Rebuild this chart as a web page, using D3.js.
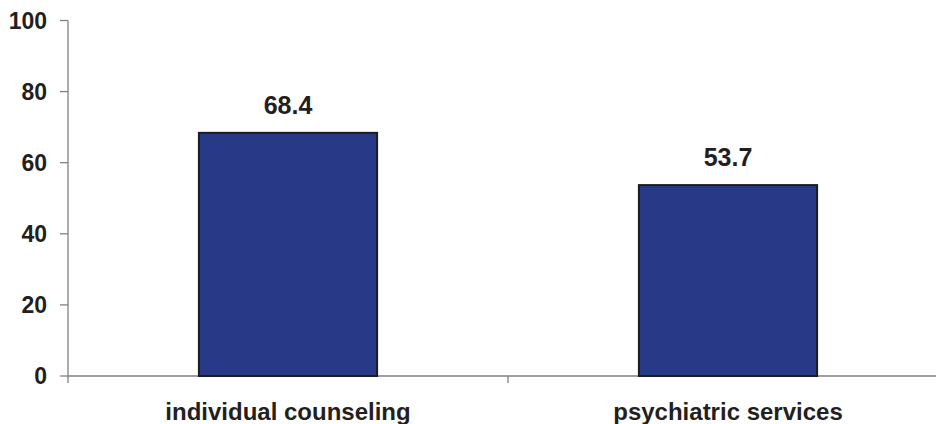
<!DOCTYPE html>
<html lang="en">
<head>
<meta charset="UTF-8">
<script src="https://d3js.org/d3.v7.min.js"></script>
<title>bars</title>
<style>
  body { margin: 0; background: #fff; }
  text { font-family: Arial, "Liberation Sans", sans-serif; font-weight: bold; fill: #231f20; }
</style>
</head>
<body>
<script>
var categories = ["individual counseling", "psychiatric services"];
var values = [68.4, 53.7];
var yTicks = [0, 20, 40, 60, 80, 100];

var width = 936, height = 424;
var svg = d3.select("body").append("svg").attr("width", width).attr("height", height);

// plot area
var plotLeft = 68, plotRight = 948, plotTop = 20.5, plotBottom = 376;

var x = d3.scaleBand().domain(categories).range([plotLeft, plotRight]).padding(0);
var y = d3.scaleLinear().domain([0, 100]).range([plotBottom, plotTop]);
var barW = x.bandwidth() * 0.405;

// y axis
svg.append("line")
   .attr("x1", plotLeft).attr("x2", plotLeft)
   .attr("y1", y(100)).attr("y2", y(0) + 7)
   .attr("stroke", "#808080").attr("stroke-width", 1.3);

svg.selectAll(".ytick")
   .data(yTicks)
   .enter()
   .append("line")
   .attr("class", "ytick")
   .attr("x1", plotLeft - 8).attr("x2", plotLeft)
   .attr("y1", function(d){ return y(d); })
   .attr("y2", function(d){ return y(d); })
   .attr("stroke", "#808080").attr("stroke-width", 1.3);

svg.selectAll(".ylabel")
   .data(yTicks)
   .enter()
   .append("text")
   .attr("class", "ylabel")
   .attr("x", 47)
   .attr("y", function(d){ return y(d); })
   .attr("dy", "0.36em")
   .attr("text-anchor", "end")
   .style("font-size", "23px")
   .text(function(d){ return d; });

// x axis
svg.append("line")
   .attr("x1", plotLeft).attr("x2", width)
   .attr("y1", y(0)).attr("y2", y(0))
   .attr("stroke", "#808080").attr("stroke-width", 1.3);

svg.selectAll(".xtick")
   .data(categories.slice(1))
   .enter()
   .append("line")
   .attr("class", "xtick")
   .attr("x1", function(d){ return x(d); })
   .attr("x2", function(d){ return x(d); })
   .attr("y1", y(0)).attr("y2", y(0) + 7)
   .attr("stroke", "#808080").attr("stroke-width", 1.3);

// bars
svg.selectAll(".bar")
   .data(values)
   .enter()
   .append("rect")
   .attr("class", "bar")
   .attr("x", function(d, i){ return x(categories[i]) + x.bandwidth() / 2 - barW / 2; })
   .attr("y", function(d){ return y(d); })
   .attr("width", barW)
   .attr("height", function(d){ return y(0) - y(d); })
   .attr("fill", "#283a87")
   .attr("stroke", "#1c1c1c")
   .attr("stroke-width", 2);

// value labels
svg.selectAll(".vlabel")
   .data(values)
   .enter()
   .append("text")
   .attr("class", "vlabel")
   .attr("x", function(d, i){ return x(categories[i]) + x.bandwidth() / 2; })
   .attr("y", function(d){ return y(d) - 19; })
   .attr("text-anchor", "middle")
   .style("font-size", "25px")
   .text(function(d){ return d.toFixed(1); });

// category labels
svg.selectAll(".xlabel")
   .data(categories)
   .enter()
   .append("text")
   .attr("class", "xlabel")
   .attr("x", function(d){ return x(d) + x.bandwidth() / 2; })
   .attr("y", 420)
   .attr("text-anchor", "middle")
   .style("font-size", "24px")
   .text(function(d){ return d; });
</script>
</body>
</html>
